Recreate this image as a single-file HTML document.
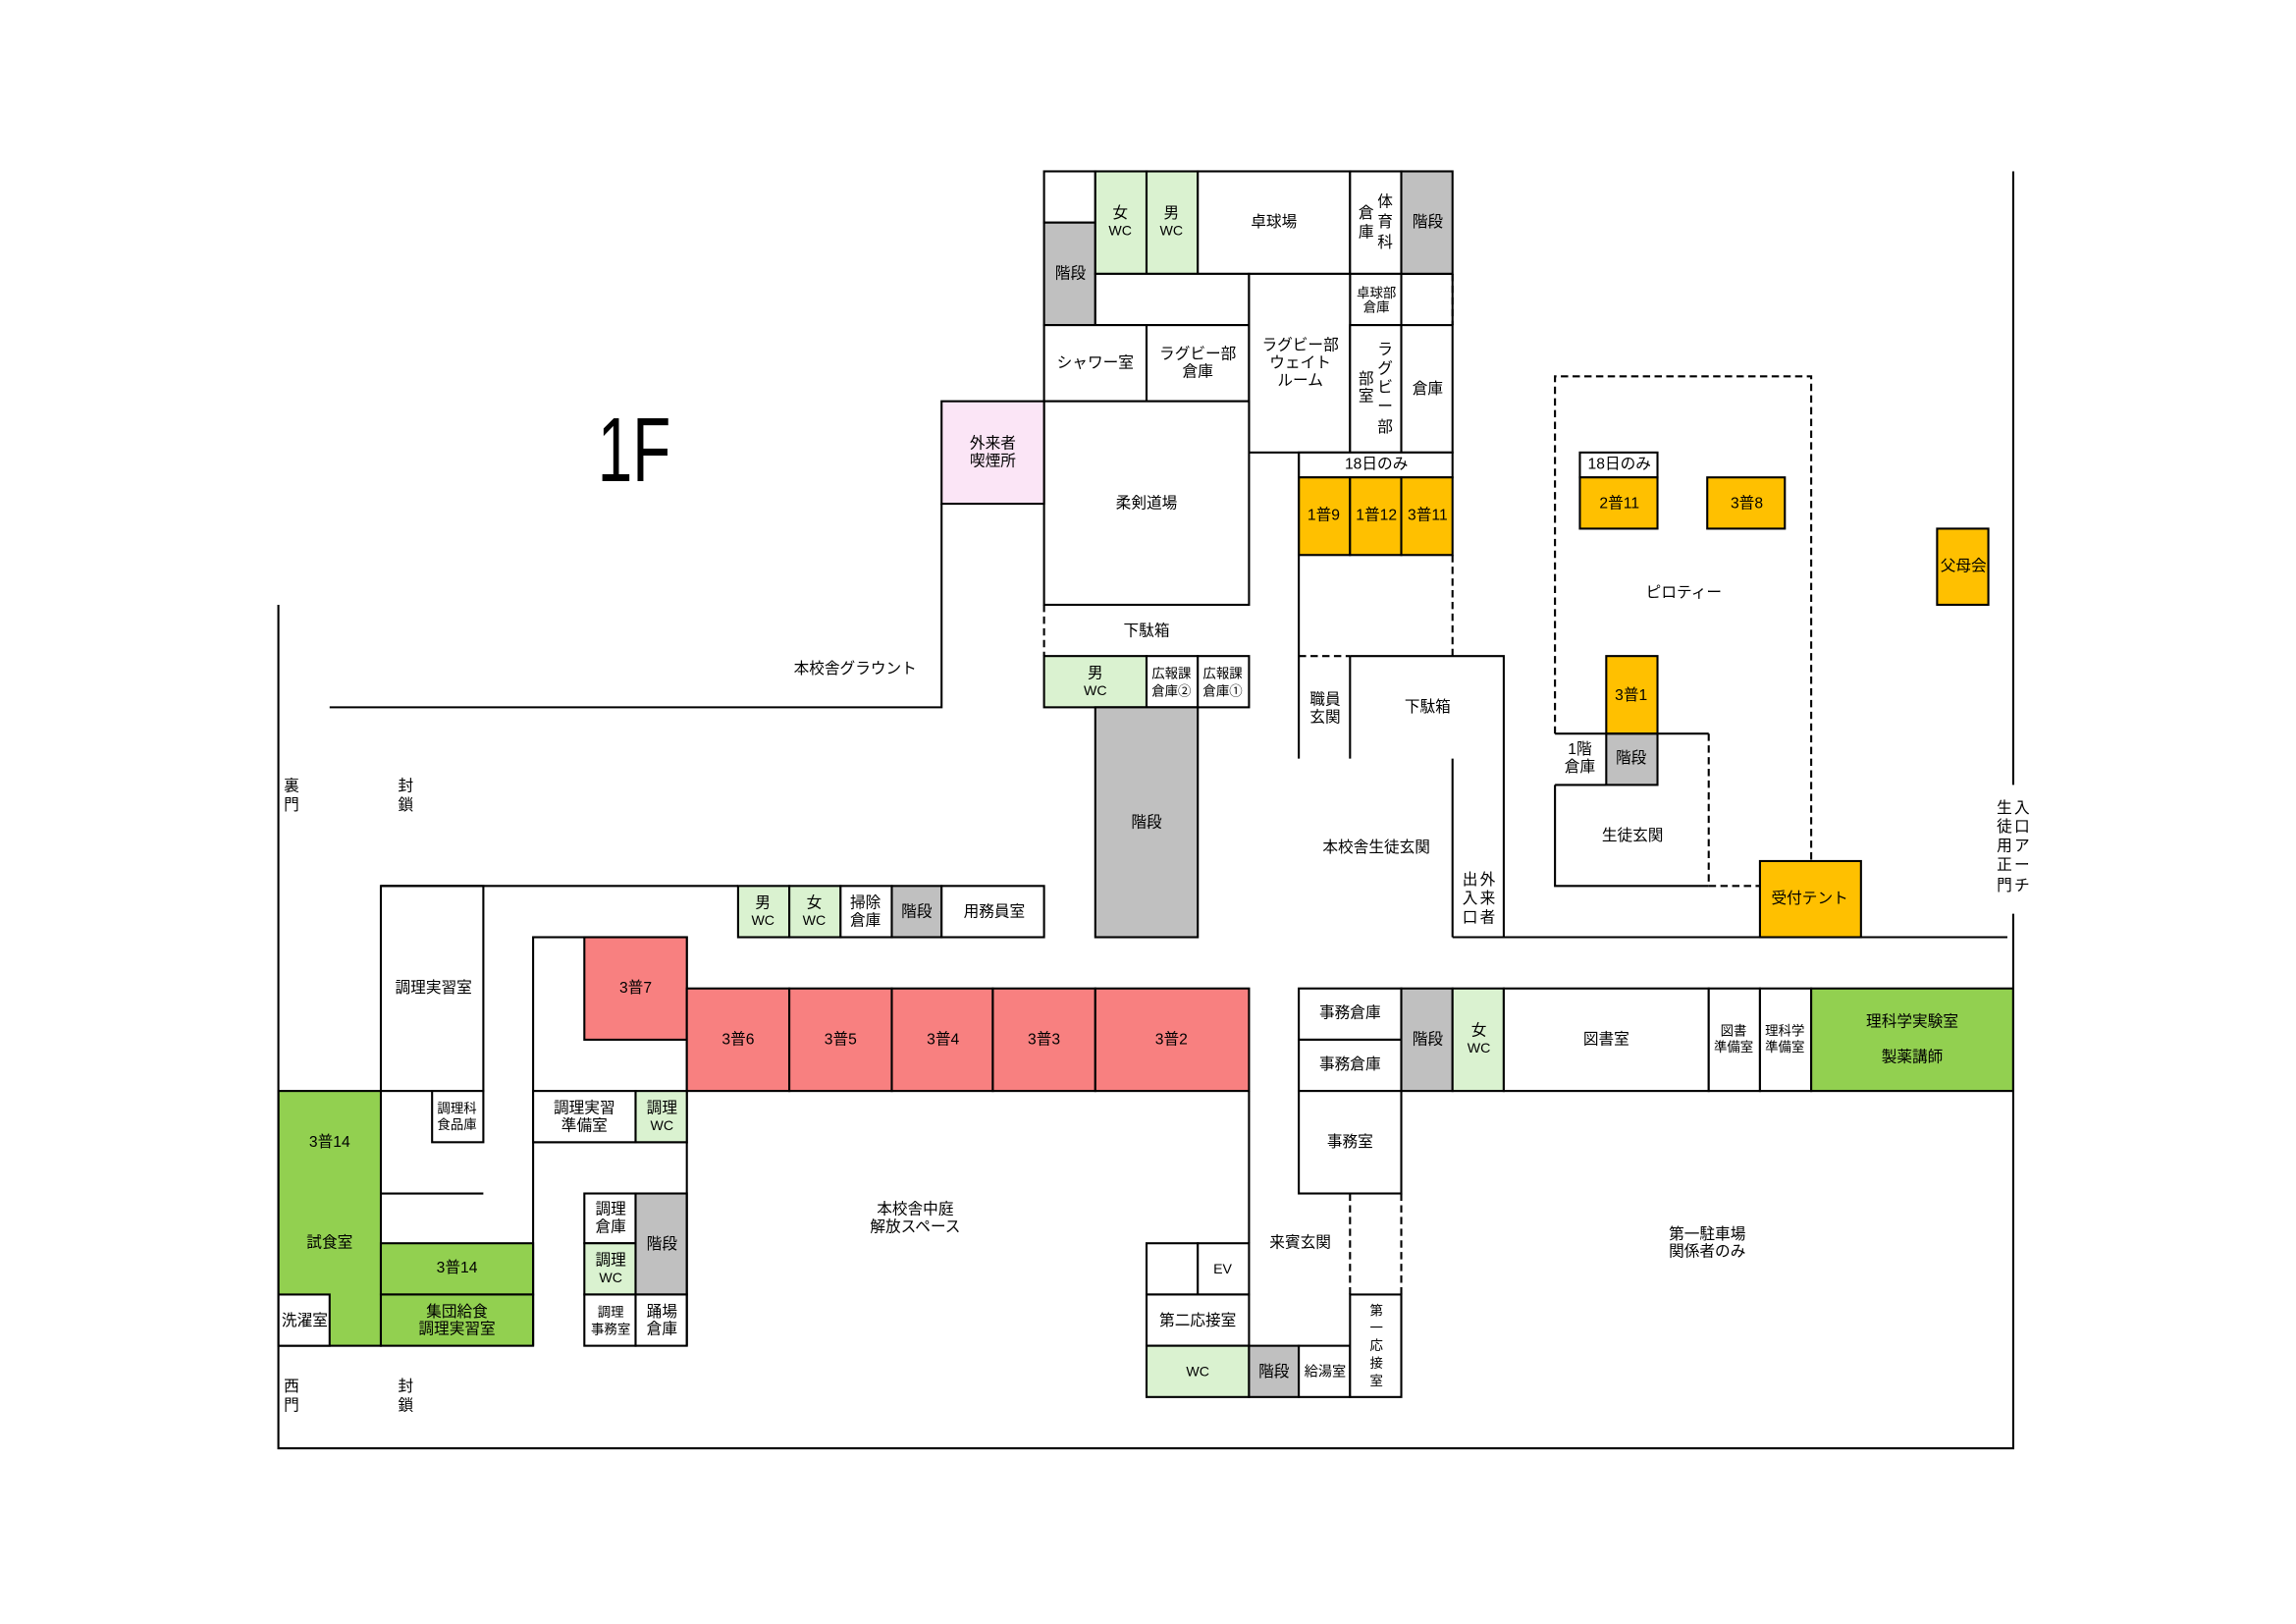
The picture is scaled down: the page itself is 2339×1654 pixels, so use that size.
<!DOCTYPE html>
<html><head><meta charset="utf-8"><style>
html,body{margin:0;padding:0;background:#fff;}
svg{display:block;}
text{font-family:"Liberation Sans","Noto Sans CJK JP",sans-serif;font-size:10.5px;fill:#000;text-anchor:middle;dominant-baseline:central;}
.r{stroke:#000;stroke-width:1.4;}
.l{stroke:#000;stroke-width:1.4;fill:none;}
.d{stroke:#000;stroke-width:1.4;fill:none;stroke-dasharray:5,3;}
</style></head><body>
<svg width="2339" height="1654" viewBox="0 0 1568 1109" xmlns="http://www.w3.org/2000/svg">
<rect width="1568" height="1109" fill="#fff"/>
<g class="r">
<rect x="713" y="117" width="35" height="35" fill="#fff"/>
<rect x="713" y="152" width="35" height="70" fill="#c0c0c0"/>
<rect x="748" y="117" width="35" height="70" fill="#daf2d0"/>
<rect x="783" y="117" width="35" height="70" fill="#daf2d0"/>
<rect x="818" y="117" width="104" height="70" fill="#fff"/>
<rect x="922" y="117" width="35" height="70" fill="#fff"/>
<rect x="957" y="117" width="35" height="70" fill="#c0c0c0"/>
<rect x="748" y="187" width="105" height="35" fill="#fff"/>
<rect x="922" y="187" width="35" height="35" fill="#fff"/>
<rect x="713" y="222" width="70" height="52" fill="#fff"/>
<rect x="783" y="222" width="70" height="52" fill="#fff"/>
<rect x="853" y="187" width="69" height="122" fill="#fff"/>
<rect x="922" y="222" width="35" height="87" fill="#fff"/>
<rect x="957" y="222" width="35" height="87" fill="#fff"/>
<rect x="713" y="274" width="140" height="139" fill="#fff"/>
<rect x="643" y="274" width="70" height="70" fill="#fbe5f6"/>
<rect x="887" y="309" width="105" height="17" fill="#fff"/>
<rect x="887" y="326" width="35" height="53" fill="#ffc000"/>
<rect x="922" y="326" width="35" height="53" fill="#ffc000"/>
<rect x="957" y="326" width="35" height="53" fill="#ffc000"/>
<rect x="713" y="448" width="70" height="35" fill="#daf2d0"/>
<rect x="783" y="448" width="35" height="35" fill="#fff"/>
<rect x="818" y="448" width="35" height="35" fill="#fff"/>
<rect x="748" y="483" width="70" height="157" fill="#c0c0c0"/>
<rect x="504" y="605" width="35" height="35" fill="#daf2d0"/>
<rect x="539" y="605" width="35" height="35" fill="#daf2d0"/>
<rect x="574" y="605" width="35" height="35" fill="#fff"/>
<rect x="609" y="605" width="34" height="35" fill="#c0c0c0"/>
<rect x="643" y="605" width="70" height="35" fill="#fff"/>
<rect x="260" y="605" width="70" height="140" fill="#fff"/>
<rect x="295" y="745" width="35" height="35" fill="#fff"/>
<rect x="364" y="640" width="105" height="140" fill="#fff"/>
<rect x="399" y="640" width="70" height="70" fill="#f88080"/>
<rect x="364" y="745" width="70" height="35" fill="#fff"/>
<rect x="434" y="745" width="35" height="35" fill="#daf2d0"/>
<rect x="469" y="675" width="70" height="70" fill="#f88080"/>
<rect x="539" y="675" width="70" height="70" fill="#f88080"/>
<rect x="609" y="675" width="69" height="70" fill="#f88080"/>
<rect x="678" y="675" width="70" height="70" fill="#f88080"/>
<rect x="748" y="675" width="105" height="70" fill="#f88080"/>
<rect x="190" y="745" width="70" height="174" fill="#92d050"/>
<rect x="190" y="884" width="35" height="35" fill="#fff"/>
<rect x="260" y="849" width="104" height="35" fill="#92d050"/>
<rect x="260" y="884" width="104" height="35" fill="#92d050"/>
<rect x="399" y="815" width="35" height="34" fill="#fff"/>
<rect x="399" y="849" width="35" height="35" fill="#daf2d0"/>
<rect x="434" y="815" width="35" height="69" fill="#c0c0c0"/>
<rect x="399" y="884" width="35" height="35" fill="#fff"/>
<rect x="434" y="884" width="35" height="35" fill="#fff"/>
<rect x="887" y="675" width="70" height="35" fill="#fff"/>
<rect x="887" y="710" width="70" height="35" fill="#fff"/>
<rect x="957" y="675" width="35" height="70" fill="#c0c0c0"/>
<rect x="992" y="675" width="35" height="70" fill="#daf2d0"/>
<rect x="1027" y="675" width="140" height="70" fill="#fff"/>
<rect x="1167" y="675" width="35" height="70" fill="#fff"/>
<rect x="1202" y="675" width="35" height="70" fill="#fff"/>
<rect x="1237" y="675" width="138" height="70" fill="#92d050"/>
<rect x="887" y="745" width="70" height="70" fill="#fff"/>
<rect x="783" y="849" width="35" height="35" fill="#fff"/>
<rect x="818" y="849" width="35" height="35" fill="#fff"/>
<rect x="783" y="884" width="70" height="35" fill="#fff"/>
<rect x="783" y="919" width="70" height="35" fill="#daf2d0"/>
<rect x="853" y="919" width="34" height="35" fill="#c0c0c0"/>
<rect x="887" y="919" width="35" height="35" fill="#fff"/>
<rect x="922" y="884" width="35" height="70" fill="#fff"/>
<rect x="1079" y="309" width="53" height="17" fill="#fff"/>
<rect x="1079" y="326" width="53" height="35" fill="#ffc000"/>
<rect x="1166" y="326" width="53" height="35" fill="#ffc000"/>
<rect x="1323" y="361" width="35" height="52" fill="#ffc000"/>
<rect x="1097" y="448" width="35" height="53" fill="#ffc000"/>
<rect x="1097" y="501" width="35" height="35" fill="#c0c0c0"/>
<rect x="1202" y="588" width="69" height="52" fill="#ffc000"/>
</g>
<path class="l" d="M957 187 H992 M992 222 V187"/>
<path class="d" d="M992 187 V222 M992 379 V448 M887 448 H922 M713 413 V448 M922 815 V884 M957 815 V884"/>
<path class="l" d="M887 309 V518 M922 448 H1027 V640 M922 448 V518 M992 518 V640 M992 640 H1371"/>
<path class="l" d="M643 344 V483 H225 M190 413 V989 H1375 V624 M1375 536 V117"/>
<path class="l" d="M260 605 H504 M260 815 H330 M469 780 V919 M853 745 V849 M364 780 V919"/>
<path class="d" d="M1062 501 V257 H1237 V588 M1167 501 V605 M1167 605 H1202"/>
<path class="l" d="M1062 501 H1167 M1062 536 H1097 M1062 536 V605 H1167"/>
<text x="408" y="307" style="font-size:62px;text-anchor:start" textLength="50" lengthAdjust="spacingAndGlyphs">1F</text>
<text x="765" y="146">女</text><text x="765" y="158" style="font-size:9.5px">WC</text>
<text x="800" y="146">男</text><text x="800" y="158" style="font-size:9.5px">WC</text>
<text x="870" y="152">卓球場</text>
<text x="933" y="146">倉</text><text x="933" y="159">庫</text>
<text x="946" y="138">体</text><text x="946" y="152">育</text><text x="946" y="166">科</text>
<text x="975" y="152">階段</text>
<text x="731" y="187">階段</text>
<text x="940" y="200" style="font-size:9px">卓球部</text><text x="940" y="210" style="font-size:9px">倉庫</text>
<text x="748" y="248">シャワー室</text>
<text x="818" y="242">ラグビー部</text><text x="818" y="254">倉庫</text>
<text x="888" y="236">ラグビー部</text><text x="888" y="248">ウェイト</text><text x="888" y="260">ルーム</text>
<text x="933" y="259">部</text><text x="933" y="271">室</text>
<text x="946" y="239">ラ</text><text x="946" y="252">グ</text><text x="946" y="265">ビ</text><text x="946" y="278">ー</text><text x="946" y="292">部</text>
<text x="975" y="266">倉庫</text>
<text x="678" y="303">外来者</text><text x="678" y="315">喫煙所</text>
<text x="783" y="344">柔剣道場</text>
<text x="940" y="317">18日のみ</text>
<text x="904" y="352">1普9</text><text x="940" y="352">1普12</text><text x="975" y="352">3普11</text>
<text x="783" y="431">下駄箱</text>
<text x="748" y="460">男</text><text x="748" y="472" style="font-size:9.5px">WC</text>
<text x="800" y="460" style="font-size:9px">広報課</text><text x="800" y="472" style="font-size:9px">倉庫②</text>
<text x="835" y="460" style="font-size:9px">広報課</text><text x="835" y="472" style="font-size:9px">倉庫①</text>
<text x="783" y="562">階段</text>
<text x="584" y="457">本校舎グラウント</text>
<text x="905" y="478">職員</text><text x="905" y="490">玄関</text>
<text x="975" y="483">下駄箱</text>
<text x="940" y="579">本校舎生徒玄関</text>
<text x="1004" y="601">出</text><text x="1004" y="614">入</text><text x="1004" y="627">口</text>
<text x="1016" y="601">外</text><text x="1016" y="614">来</text><text x="1016" y="627">者</text>
<text x="199" y="537">裏</text><text x="199" y="550">門</text>
<text x="277" y="537">封</text><text x="277" y="550">鎖</text>
<text x="199" y="947">西</text><text x="199" y="960">門</text>
<text x="277" y="947">封</text><text x="277" y="960">鎖</text>
<text x="521" y="617">男</text><text x="521" y="629" style="font-size:9.5px">WC</text>
<text x="556" y="617">女</text><text x="556" y="629" style="font-size:9.5px">WC</text>
<text x="591" y="617">掃除</text><text x="591" y="629">倉庫</text>
<text x="626" y="623">階段</text>
<text x="679" y="623">用務員室</text>
<text x="296" y="675">調理実習室</text>
<text x="312" y="757" style="font-size:9px">調理科</text><text x="312" y="768" style="font-size:9px">食品庫</text>
<text x="434" y="675">3普7</text>
<text x="399" y="757">調理実習</text><text x="399" y="769">準備室</text>
<text x="452" y="757">調理</text><text x="452" y="769" style="font-size:9.5px">WC</text>
<text x="504" y="710">3普6</text><text x="574" y="710">3普5</text><text x="644" y="710">3普4</text><text x="713" y="710">3普3</text><text x="800" y="710">3普2</text>
<text x="225" y="780">3普14</text>
<text x="225" y="849">試食室</text>
<text x="208" y="902">洗濯室</text>
<text x="312" y="866">3普14</text>
<text x="312" y="896">集団給食</text><text x="312" y="908">調理実習室</text>
<text x="417" y="826">調理</text><text x="417" y="838">倉庫</text>
<text x="417" y="861">調理</text><text x="417" y="873" style="font-size:9.5px">WC</text>
<text x="452" y="850">階段</text>
<text x="417" y="896" style="font-size:9px">調理</text><text x="417" y="908" style="font-size:9px">事務室</text>
<text x="452" y="896">踊場</text><text x="452" y="908">倉庫</text>
<text x="625" y="826">本校舎中庭</text><text x="625" y="838">解放スペース</text>
<text x="922" y="692">事務倉庫</text><text x="922" y="727">事務倉庫</text>
<text x="975" y="710">階段</text>
<text x="1010" y="704">女</text><text x="1010" y="716" style="font-size:9.5px">WC</text>
<text x="1097" y="710">図書室</text>
<text x="1184" y="704" style="font-size:9px">図書</text><text x="1184" y="715" style="font-size:9px">準備室</text>
<text x="1219" y="704" style="font-size:9px">理科学</text><text x="1219" y="715" style="font-size:9px">準備室</text>
<text x="1306" y="698">理科学実験室</text><text x="1306" y="722">製薬講師</text>
<text x="922" y="780">事務室</text>
<text x="888" y="849">来賓玄関</text>
<text x="835" y="867" style="font-size:9.5px">EV</text>
<text x="818" y="902">第二応接室</text>
<text x="818" y="937" style="font-size:9.5px">WC</text>
<text x="870" y="937">階段</text>
<text x="905" y="937" style="font-size:9.5px">給湯室</text>
<text x="940" y="895" style="font-size:9px">第</text><text x="940" y="907" style="font-size:9px">一</text><text x="940" y="919" style="font-size:9px">応</text><text x="940" y="931" style="font-size:9px">接</text><text x="940" y="943" style="font-size:9px">室</text>
<text x="1166" y="843">第一駐車場</text><text x="1166" y="855">関係者のみ</text>
<text x="1106" y="317">18日のみ</text>
<text x="1106" y="344">2普11</text>
<text x="1193" y="344">3普8</text>
<text x="1150" y="405">ピロティー</text>
<text x="1341" y="387">父母会</text>
<text x="1114" y="475">3普1</text>
<text x="1114" y="518">階段</text>
<text x="1079" y="512">1階</text><text x="1079" y="524">倉庫</text>
<text x="1115" y="571">生徒玄関</text>
<text x="1236" y="614">受付テント</text>
<text x="1369" y="552">生</text><text x="1369" y="565">徒</text><text x="1369" y="578">用</text><text x="1369" y="591">正</text><text x="1369" y="605">門</text>
<text x="1381" y="552">入</text><text x="1381" y="565">口</text><text x="1381" y="578">ア</text><text x="1381" y="591">ー</text><text x="1381" y="605">チ</text>
</svg>
</body></html>
